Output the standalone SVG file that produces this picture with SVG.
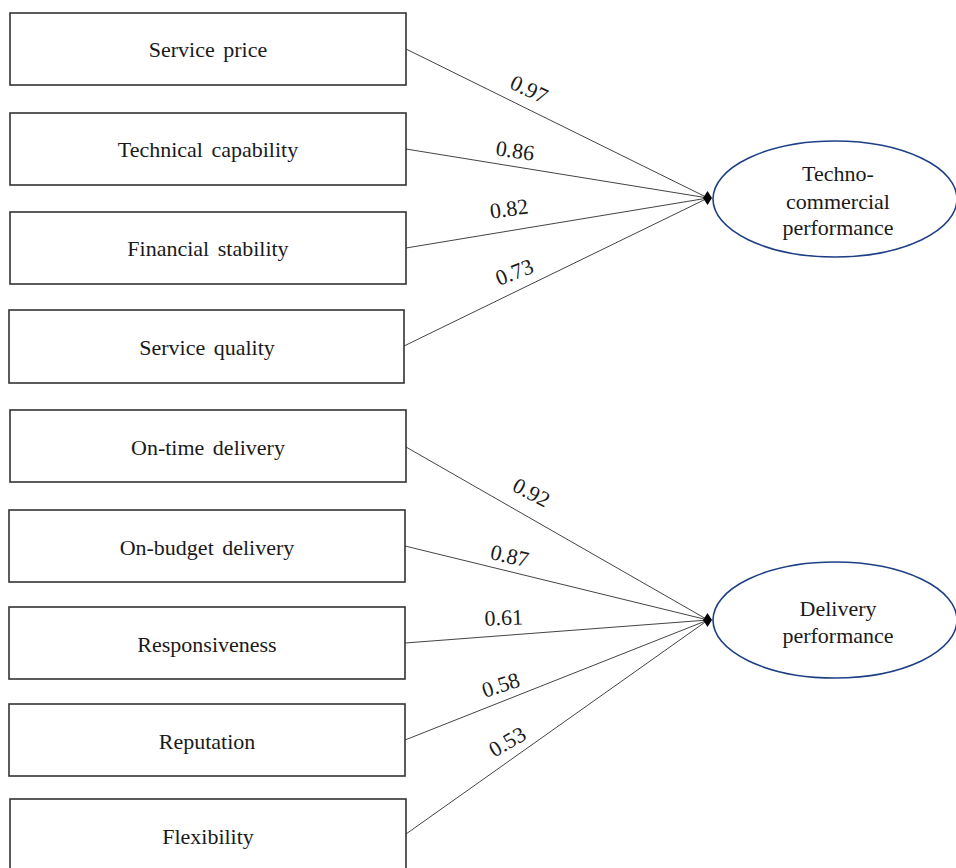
<svg xmlns="http://www.w3.org/2000/svg" width="956" height="868" viewBox="0 0 956 868">
<style>
.box{fill:#fff;stroke:#333;stroke-width:1.6}
.lbl{font-family:"Liberation Serif","Times New Roman",serif;font-size:22px;fill:#1a1a1a;text-anchor:middle;word-spacing:3px}
.ell{fill:#fff;stroke:#1f3f85;stroke-width:1.6}
.con{stroke:#444;stroke-width:1;fill:none}
.num{font-family:"Liberation Serif","Times New Roman",serif;font-size:22px;fill:#1a1a1a;text-anchor:middle}
.tip{fill:#000}
</style>
<rect width="956" height="868" fill="#fff"/>
<g id="connectors">
<line class="con" x1="406" y1="49" x2="708" y2="198"/>
<line class="con" x1="406" y1="149" x2="708" y2="198"/>
<line class="con" x1="406" y1="248" x2="708" y2="198"/>
<line class="con" x1="404" y1="346" x2="708" y2="198"/>
<polygon class="tip" points="703,198 707.5,191 712,198 707.5,205"/>
<line class="con" x1="406" y1="447" x2="708" y2="620"/>
<line class="con" x1="405" y1="546" x2="708" y2="620"/>
<line class="con" x1="405" y1="643" x2="708" y2="620"/>
<line class="con" x1="405" y1="740" x2="708" y2="620"/>
<line class="con" x1="406" y1="834" x2="708" y2="620"/>
<polygon class="tip" points="703,620 707.5,613 712,620 707.5,627"/>
<text class="num" transform="translate(526,96) rotate(25)">0.97</text>
<text class="num" transform="translate(514,158) rotate(8)">0.86</text>
<text class="num" transform="translate(510,216) rotate(-8)">0.82</text>
<text class="num" transform="translate(517,279) rotate(-21)">0.73</text>
<text class="num" transform="translate(528,499) rotate(28)">0.92</text>
<text class="num" transform="translate(508,563) rotate(13)">0.87</text>
<text class="num" transform="translate(504,625) rotate(-2)">0.61</text>
<text class="num" transform="translate(503,692) rotate(-18)">0.58</text>
<text class="num" transform="translate(511,748) rotate(-30)">0.53</text>
</g>
<g id="n-service-price"><rect class="box" x="10" y="13" width="396" height="72"/><text class="lbl" x="208" y="57">Service price</text></g>
<g id="n-technical-capability"><rect class="box" x="10" y="113" width="396" height="72"/><text class="lbl" x="208" y="157">Technical capability</text></g>
<g id="n-financial-stability"><rect class="box" x="10" y="212" width="396" height="72"/><text class="lbl" x="208" y="256">Financial stability</text></g>
<g id="n-service-quality"><rect class="box" x="9" y="310" width="395" height="73"/><text class="lbl" x="207" y="355">Service quality</text></g>
<g id="n-on-time-delivery"><rect class="box" x="10" y="410" width="396" height="72"/><text class="lbl" x="208" y="455">On-time delivery</text></g>
<g id="n-on-budget-delivery"><rect class="box" x="9" y="510" width="396" height="72"/><text class="lbl" x="207" y="555">On-budget delivery</text></g>
<g id="n-responsiveness"><rect class="box" x="9" y="607" width="396" height="72"/><text class="lbl" x="207" y="652">Responsiveness</text></g>
<g id="n-reputation"><rect class="box" x="9" y="704" width="396" height="72"/><text class="lbl" x="207" y="749">Reputation</text></g>
<g id="n-flexibility"><rect class="box" x="10" y="799" width="396" height="72"/><text class="lbl" x="208" y="844">Flexibility</text></g>
<g id="n-techno-commercial"><ellipse class="ell" cx="835" cy="199" rx="122" ry="58"/><text class="lbl" x="838" y="181">Techno-</text><text class="lbl" x="838" y="209">commercial</text><text class="lbl" x="838" y="235">performance</text></g>
<g id="n-delivery"><ellipse class="ell" cx="835" cy="620" rx="122" ry="58"/><text class="lbl" x="838" y="616">Delivery</text><text class="lbl" x="838" y="643">performance</text></g>
</svg>
